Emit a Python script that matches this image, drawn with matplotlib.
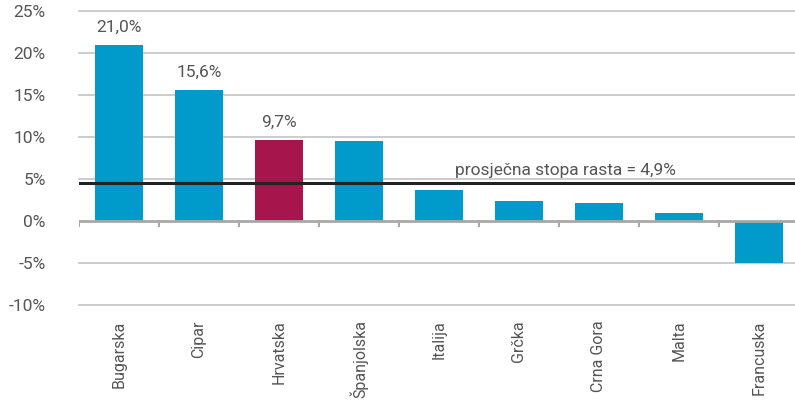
import numpy as np
import matplotlib
matplotlib.use("Agg")
import matplotlib.pyplot as plt

# data
countries = ["Bugarska", "Cipar", "Hrvatska", "Španjolska", "Italija",
             "Grčka", "Crna Gora", "Malta", "Francuska"]
growth = [21.0, 15.6, 9.6, 9.5, 3.7, 2.4, 2.1, 1.0, -5.0]
labelled = {0: "21,0%", 1: "15,6%", 2: "9,7%"}
avg_line = 4.5
avg_text = "prosječna stopa rasta = 4,9%"
yticks = [-10, -5, 0, 5, 10, 15, 20, 25]

BLUE = "#009bcb"
RED = "#a6154b"
TXT = "#555555"

plt.rcParams['font.family'] = ['Roboto', 'DejaVu Sans']

fig = plt.figure(figsize=(7.95, 4.03), dpi=100)
ax = fig.add_axes([79/795, 1 - 305/403, 1 - 79/795 + 0.005, 294/403])

x = np.arange(len(countries))
colors = [RED if c == "Hrvatska" else BLUE for c in countries]
ax.bar(x, growth, width=0.59, color=colors, zorder=3)

for i, txt in labelled.items():
    ax.text(x[i], growth[i] + 1.2, txt, ha="center", va="bottom",
            fontsize=12.5, color=TXT)

# grid
for v in yticks:
    if v == 0:
        continue
    ax.axhline(v, color="#c4c4c4", lw=1.2, zorder=1, clip_on=False)
ax.axhline(0, color="#a8a8a8", lw=2, zorder=4)
ax.vlines(np.arange(len(countries) + 1) - 0.5, -0.75, 0, color="#a8a8a8", lw=1.5, zorder=4)

ax.axhline(avg_line, color="#222222", lw=2.2, zorder=5)
ax.text(4.2, avg_line + 0.6, avg_text, ha="left", va="bottom",
        fontsize=12.5, color=TXT, zorder=6)

ax.set_xlim(-0.5, 8.5)
ax.set_ylim(-10, 25)
ax.set_yticks(yticks)
ax.set_yticklabels([f"{v}%" for v in yticks])
ax.set_xticks(x)
ax.set_xticklabels(countries, rotation=90)
ax.tick_params(axis="y", length=0, pad=24, labelsize=12.5, labelcolor=TXT)
ax.tick_params(axis="x", length=0, pad=11, labelsize=11.5, labelcolor=TXT)
for s in ax.spines.values():
    s.set_visible(False)

fig.savefig("out.png", dpi=100)
